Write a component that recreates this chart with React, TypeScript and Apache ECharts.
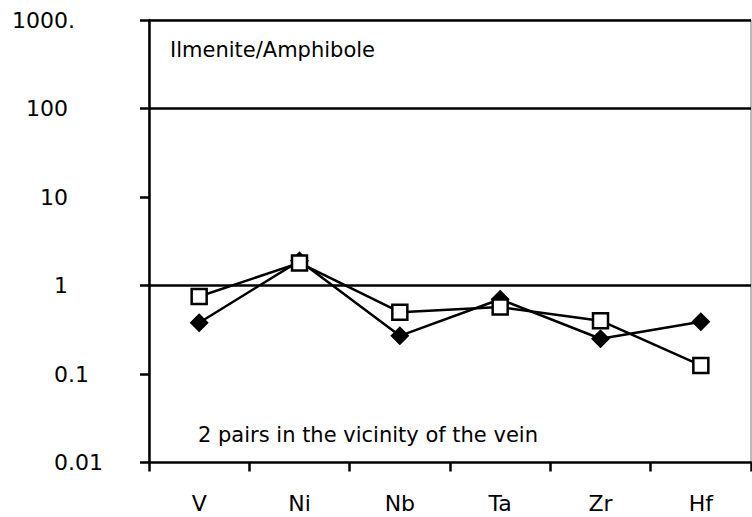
import React, { useEffect, useRef } from "react";
import * as echarts from "echarts";

const categories = ["V", "Ni", "Nb", "Ta", "Zr", "Hf"];
const diamondSeries = [0.38, 1.9, 0.27, 0.7, 0.25, 0.39];
const squareSeries = [0.75, 1.8, 0.5, 0.57, 0.4, 0.125];
const yTickLabels = ["0.01", "0.1", "1", "10", "100", "1000."];
const gridLineValues = [1000, 100, 1];
const titleText = "Ilmenite/Amphibole";
const noteText = "2 pairs in the vicinity of the vein";

const FONT = "DejaVu Sans";
const FIG = "\u2007";

export default function App() {
  const ref = useRef<HTMLDivElement>(null);
  useEffect(() => {
    if (!ref.current) return;
    const chart = echarts.init(ref.current, null, { renderer: "svg" });
    chart.setOption({
      animation: false,
      backgroundColor: "#ffffff",
      grid: {
        left: 149,
        right: 1,
        top: 20,
        bottom: 54.5,
        show: true,
        borderColor: "#777777",
        borderWidth: 1,
        backgroundColor: "transparent",
      },
      xAxis: {
        type: "category",
        data: categories,
        boundaryGap: true,
        axisLine: { show: true, lineStyle: { color: "#000", width: 2.5 } },
        axisTick: { show: true, length: 9, inside: false, alignWithLabel: false, lineStyle: { color: "#000", width: 2.5 } },
        axisLabel: { color: "#000", fontFamily: FONT, fontSize: 22, margin: 30 },
        splitLine: { show: false },
      },
      yAxis: {
        type: "log",
        logBase: 10,
        min: 0.01,
        max: 1000,
        axisLine: { show: true, lineStyle: { color: "#000", width: 2.5 } },
        axisTick: { show: true, length: 9, lineStyle: { color: "#000", width: 2.5 } },
        splitLine: { show: false },
        minorTick: { show: false },
        axisLabel: {
          color: "#000",
          fontFamily: FONT,
          fontSize: 22,
          align: "left",
          margin: 137,
          formatter: (_v: number, idx: number) => {
            const s = yTickLabels[idx] ?? "";
            const p = s.indexOf(".");
            const ip = p >= 0 ? s.slice(0, p) : s;
            const pad = Math.max(0, 4 - ip.length);
            return FIG.repeat(pad) + s;
          },
        },
      },
      series: [
        {
          type: "line",
          data: diamondSeries,
          symbol: "diamond",
          symbolSize: 19,
          lineStyle: { color: "#000", width: 2.5 },
          itemStyle: { color: "#000", borderColor: "#000", borderWidth: 0 },
          z: 3,
          markLine: {
            silent: true,
            symbol: ["none", "none"],
            label: { show: false },
            lineStyle: { color: "#000", width: 2.5, type: "solid" },
            data: gridLineValues.map((v) => ({ yAxis: v })),
          },
        },
        {
          type: "line",
          data: squareSeries,
          symbol: "rect",
          symbolSize: 15,
          lineStyle: { color: "#000", width: 2.5 },
          itemStyle: { color: "#fff", borderColor: "#000", borderWidth: 2.5 },
          z: 4,
        },
      ],
      graphic: [
        {
          type: "text",
          left: 170,
          top: 39,
          style: { text: titleText, fontFamily: FONT, fontSize: 21, fill: "#000" },
        },
        {
          type: "text",
          left: 198,
          top: 424,
          style: { text: noteText, fontFamily: FONT, fontSize: 21, fill: "#000" },
        },
      ],
    });
    return () => chart.dispose();
  }, []);
  return (
    <div
      ref={ref}
      style={{ position: "fixed", left: 0, top: 0, width: 752, height: 517, background: "#fff" }}
    />
  );
}
